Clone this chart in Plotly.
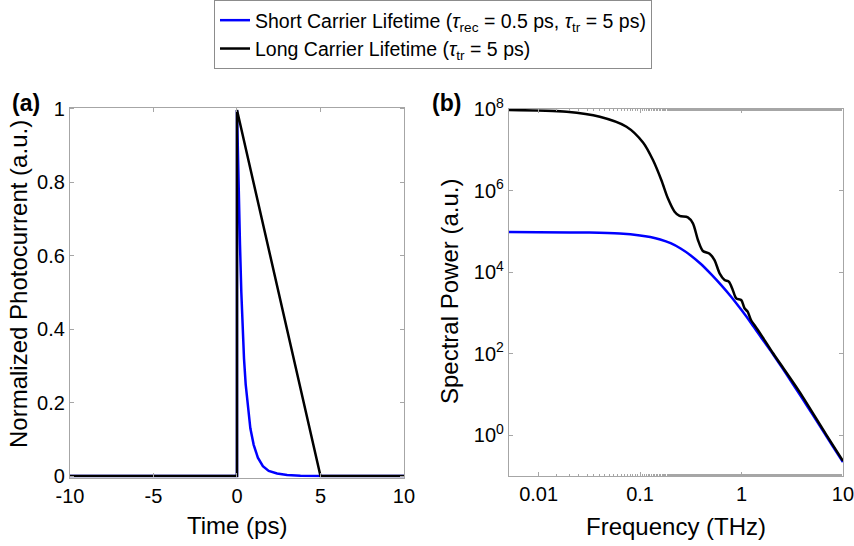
import plotly.graph_objects as go

# ---- Panel (a): time-domain photocurrent ----
t_short = [-10, 0, 0, 0.04, 0.08, 0.12, 0.18, 0.26, 0.34, 0.42, 0.52, 0.64, 0.8, 1.0,
           1.25, 1.55, 1.9, 2.4, 3.0, 3.8, 5.0, 10]
v_short = [0, 0, 0.997, 0.90, 0.82, 0.75, 0.63, 0.50, 0.40, 0.32, 0.25, 0.19, 0.13, 0.085,
           0.05, 0.027, 0.014, 0.007, 0.003, 0.001, 0, 0]
t_long = [-10, 0, 0, 5, 10]
v_long = [0, 0, 0.997, 0, 0]

# ---- Panel (b): spectral power ----
f_short = [0.0051, 0.0316, 0.0631, 0.1, 0.126, 0.158, 0.2, 0.251, 0.316, 0.398, 0.501, 0.631,
           0.794, 1.0, 1.26, 1.58, 2.0, 2.51, 3.16, 3.98, 5.01, 6.31, 7.94, 10.0]
p_short = [9.66e4, 9.33e4, 8.81e4, 7.94e4, 7.24e4, 6.31e4, 5.13e4, 3.80e4, 2.57e4, 1.58e4,
           8.91e3, 4.79e3, 2.45e3, 1.17e3, 537, 240, 105, 45.7, 19.1, 7.94, 3.24, 1.32, 0.537, 0.219]
f_long = [0.0051, 0.0189, 0.0401, 0.0735, 0.107, 0.134, 0.162, 0.188, 0.219, 0.245, 0.296,
          0.332, 0.372, 0.416, 0.484, 0.542, 0.608, 0.681, 0.750, 0.820, 0.887, 0.993,
          1.07, 1.15, 1.24, 1.34, 1.45, 1.62, 2.03, 2.51, 3.72, 6.81, 10.0]
p_long = [9.44e7, 8.59e7, 6.47e7, 3.68e7, 1.51e7, 5.61e6, 1.82e6, 6.46e5, 3.03e5, 2.38e5, 2.21e5,
          1.57e5, 6.14e4, 3.30e4, 2.83e4, 1.98e4, 9.35e3, 6.41e3, 5.82e3, 3.65e3, 2.28e3, 2.07e3,
          1.30e3, 1.07e3, 670, 505, 380, 251, 105, 49, 11.7, 1.05, 0.234]

x_ticks_a = [-10, -5, 0, 5, 10]
x_ticktext_a = ["-10", "-5", "0", "5", "10"]
y_ticks_a = [0, 0.2, 0.4, 0.6, 0.8, 1]
y_ticktext_a = ["0", "0.2", "0.4", "0.6", "0.8", "1"]
x_ticks_b = [0.01, 0.1, 1, 10]
x_ticktext_b = ["0.01", "0.1", "1", "10"]
y_ticks_b = [1, 1e2, 1e4, 1e6, 1e8]
y_ticktext_b = ["10<sup>0</sup>", "10<sup>2</sup>", "10<sup>4</sup>", "10<sup>6</sup>", "10<sup>8</sup>"]

name_short = "Short Carrier Lifetime (<i>τ</i><sub>rec</sub> = 0.5 ps, <i>τ</i><sub>tr</sub> = 5 ps)"
name_long = "Long Carrier Lifetime (<i>τ</i><sub>tr</sub> = 5 ps)"

BLUE = "#0000ff"
BLACK = "#000000"
AX = "#a6a6a6"
FONT = "Liberation Sans, Arial, sans-serif"

fig = go.Figure()
fig.add_trace(go.Scatter(x=t_short, y=v_short, mode="lines", name=name_short,
                         line=dict(color=BLUE, width=2.5), xaxis="x", yaxis="y"))
fig.add_trace(go.Scatter(x=t_long, y=v_long, mode="lines", name=name_long,
                         line=dict(color=BLACK, width=2.5), xaxis="x", yaxis="y"))
fig.add_trace(go.Scatter(x=f_short, y=p_short, mode="lines", showlegend=False,
                         line=dict(color=BLUE, width=2.5, shape="spline", smoothing=0.8),
                         xaxis="x2", yaxis="y2"))
fig.add_trace(go.Scatter(x=f_long, y=p_long, mode="lines", showlegend=False,
                         line=dict(color=BLACK, width=2.5, shape="spline", smoothing=0.8),
                         xaxis="x2", yaxis="y2"))

W, H = 854, 546
ydom = [1 - 477.5 / H, 1 - 107.5 / H]
ydom_b = [1 - 476 / H, 1 - 109 / H]

common = dict(showgrid=False, zeroline=False, showline=True, linecolor=AX, linewidth=1.3,
              mirror="ticks", ticks="inside", ticklen=4, tickcolor=AX, automargin=False,
              ticklabeloverflow="allow",
              tickfont=dict(family=FONT, size=20, color="black"))

TF = dict(family=FONT, size=24, color="black")

fig.update_layout(
    width=W, height=H,
    margin=dict(l=0, r=0, t=0, b=0),
    paper_bgcolor="white", plot_bgcolor="white",
    font=dict(family=FONT, color="black"),
    xaxis=dict(domain=[70 / W, 404 / W], range=[-10, 10.001], tickvals=x_ticks_a, ticktext=x_ticktext_a,
               anchor="y", **common),
    yaxis=dict(domain=ydom, range=[-0.004, 1.004], tickvals=y_ticks_a, ticktext=y_ticktext_a,
               anchor="x", **common),
    xaxis2=dict(domain=[509 / W, 843 / W], type="log", range=[-2.292, 1.0005],
                tickvals=x_ticks_b, ticktext=x_ticktext_b,
                minor=dict(ticks="inside", ticklen=2, tickcolor=AX, showgrid=False),
                anchor="y2", **common),
    yaxis2=dict(domain=ydom_b, type="log", range=[-1, 8.0005], tickvals=y_ticks_b, ticktext=y_ticktext_b,
                anchor="x2", **common),
    legend=dict(x=214 / W, y=1.0, xanchor="left", yanchor="top",
                bordercolor="#8c8c8c", borderwidth=1, bgcolor="white",
                font=dict(family=FONT, size=19.5, color="black"),
                itemwidth=30, tracegroupgap=0),
    annotations=[
        dict(text="<b>(a)</b>", x=10 / W, y=1 - 103 / H, xref="paper", yref="paper",
             xanchor="left", yanchor="middle", showarrow=False, font=dict(size=23, family=FONT)),
        dict(text="<b>(b)</b>", x=430 / W, y=1 - 103 / H, xref="paper", yref="paper",
             xanchor="left", yanchor="middle", showarrow=False, font=dict(size=23, family=FONT)),
        dict(text="Time (ps)", x=237 / W, y=1 - 525 / H, xref="paper", yref="paper",
             xanchor="center", yanchor="middle", showarrow=False, font=TF),
        dict(text="Frequency (THz)", x=676 / W, y=1 - 526 / H, xref="paper", yref="paper",
             xanchor="center", yanchor="middle", showarrow=False, font=TF),
        dict(text="Normalized Photocurrent (a.u.)", x=18 / W, y=1 - 284 / H, xref="paper", yref="paper",
             xanchor="center", yanchor="middle", textangle=-90, showarrow=False, font=TF),
        dict(text="Spectral Power (a.u.)", x=449 / W, y=1 - 292 / H, xref="paper", yref="paper",
             xanchor="center", yanchor="middle", textangle=-90, showarrow=False, font=TF),
    ],
)

fig.write_html("out.html")
